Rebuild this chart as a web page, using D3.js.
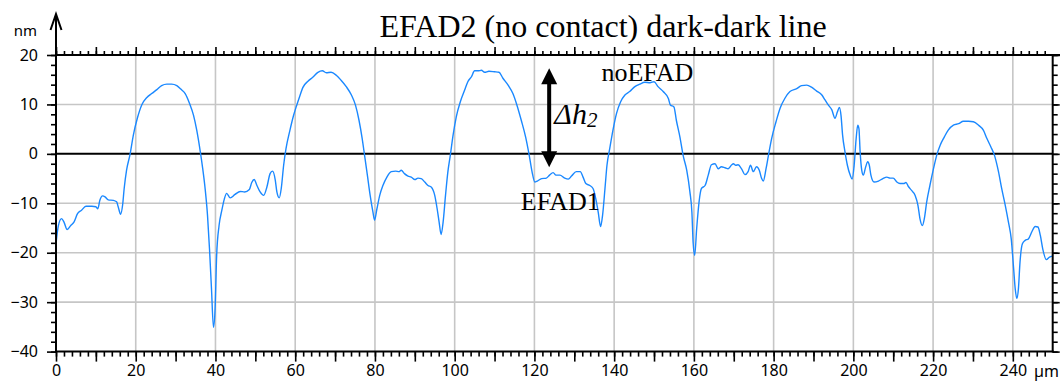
<!DOCTYPE html>
<html>
<head>
<meta charset="utf-8">
<script src="https://cdn.jsdelivr.net/npm/d3@7"></script>
<style>
  html, body { margin: 0; padding: 0; background: #fff; }
  svg { display: block; }
</style>
</head>
<body>
<svg id="chart" width="1062" height="382"></svg>
<script>
// ---- data ----
const titleText = "EFAD2 (no contact) dark-dark line";
const xUnit = "µm";
const yUnit = "nm";
const xDomain = [0, 250];
const yDomain = [-40, 20];
const xMajorTicks = [0, 20, 40, 60, 80, 100, 120, 140, 160, 180, 200, 220, 240];
const yMajorTicks = [20, 10, 0, -10, -20, -30, -40];

// profile position (µm)
const profileX = [
  0, 0.6, 1.4, 2.0, 2.8, 3.7, 4.5, 5.4, 6.4, 7.5, 9.0, 10.0, 10.5, 11.0, 11.7, 12.3, 13.1, 14.4, 15.2, 15.6,
  16.2, 16.7, 17.1, 17.7, 18.6, 19.4, 20.4, 21.5, 22.8, 24.0, 25.3, 26.5, 27.8, 29.0, 30.3, 31.3, 32.4, 33.5,
  34.5, 35.3, 36.2, 36.8, 37.4, 38.0, 38.5, 39.0, 39.5, 39.9, 40.3, 40.9, 41.6, 42.2, 42.8, 43.7, 44.9, 46.2,
  47.3, 48.5, 49.1, 49.7, 50.4, 51.2, 52.1, 52.9, 53.7, 54.3, 55.0, 55.4, 56.0, 56.5, 57.1, 57.7, 58.6, 59.6,
  60.4, 61.2, 61.9, 63.2, 64.4, 65.7, 66.8, 67.8, 69.0, 70.3, 71.5, 72.8, 74.1, 75.1, 76.0, 76.8, 77.4, 78.1,
  78.8, 79.5, 79.9, 80.5, 81.2, 82.0, 83.0, 84.1, 85.2, 86.0, 86.6, 87.4, 88.3, 89.1, 90.0, 90.8, 91.6, 92.5,
  93.3, 94.1, 95.0, 95.6, 96.1, 96.6, 97.1, 97.7, 98.3, 98.9, 99.6, 100.4, 101.4, 102.5, 103.3, 104.2, 105.0,
  105.9, 106.7, 107.5, 108.6, 110.0, 111.1, 112.1, 113.4, 114.6, 115.6, 116.7, 117.8, 118.7, 119.4, 120.1,
  120.7, 121.8, 123.0, 123.8, 124.7, 125.4, 126.4, 127.6, 128.5, 129.3, 130.5, 131.5, 132.2, 132.9, 133.9,
  134.7, 135.4, 136.0, 136.6, 137.1, 137.7, 138.2, 138.9, 139.7, 140.6, 141.6, 142.7, 143.9, 145.2, 146.4,
  147.7, 149.0, 150.0, 151.0, 152.3, 153.6, 154.1, 155.0, 155.6, 156.5, 157.3, 158.2, 159.0, 159.5, 159.8,
  160.2, 160.7, 161.3, 161.9, 162.8, 163.6, 164.4, 165.3, 166.1, 166.9, 167.8, 168.6, 169.5, 169.9, 170.5,
  171.1, 172.0, 172.8, 173.6, 174.2, 174.9, 175.7, 176.4, 177.0, 177.4, 178.1, 178.7, 179.5, 180.6, 181.6,
  182.8, 184.1, 185.8, 187.0, 188.3, 189.5, 190.8, 192.1, 192.9, 193.7, 194.6, 195.4, 196.0, 196.5, 196.9,
  197.3, 197.9, 198.5, 199.2, 199.7, 200.2, 200.7, 201.1, 201.4, 201.7, 202.1, 202.5, 203.1, 203.6, 204.0,
  204.4, 205.2, 206.3, 207.4, 208.4, 209.2, 210.0, 210.9, 211.7, 212.6, 213.2, 213.8, 214.6, 215.5, 216.2,
  216.7, 217.3, 217.8, 218.4, 219.2, 220.1, 220.9, 221.8, 222.8, 223.8, 225.1, 226.4, 227.6, 228.9, 230.1,
  231.4, 232.6, 233.5, 234.5, 235.4, 236.4, 237.2, 238.1, 238.9, 239.6, 240.2, 240.6, 241.0, 241.4, 241.8,
  242.4, 243.1, 243.9, 244.8, 245.6, 246.3, 246.9, 247.5, 248.4, 249.2, 249.9
];
// profile height (nm)
const profileNm = [
  -18.2, -14.5, -13.1, -13.8, -15.3, -14.5, -13.8, -12.1, -11.4, -10.6, -10.6, -10.7, -11.1, -9.4, -8.5, -8.7, -9.3, -9.4, -9.7, -10.7,
  -12.2, -10.4, -7.0, -3.3, 0, 3.8, 7.2, 9.9, 11.4, 12.2, 13.0, 13.8, 14.1, 14.1, 13.8, 13.1, 12.2, 10.2,
  7.8, 4.8, 0.4, -3.0, -7.0, -12.4, -19.2, -27.3, -35.1, -31.4, -20.5, -14.5, -11.4, -9.2, -8.0, -8.9, -8.2, -7.6,
  -7.7, -7.2, -5.8, -5.2, -6.4, -7.7, -8.4, -6.7, -4.0, -3.5, -5.3, -7.7, -8.9, -7.0, -2.3, 1.1, 4.5, 7.8,
  9.9, 11.8, 13.4, 14.7, 15.5, 16.5, 16.8, 16.4, 16.5, 15.9, 14.9, 13.6, 11.9, 9.9, 6.8, 3.1, -0.3, -4.3,
  -8.4, -11.8, -13.4, -11.1, -8.4, -6.4, -4.7, -3.6, -3.5, -3.6, -3.3, -4.0, -4.5, -4.7, -5.2, -4.9, -5.0, -5.7,
  -6.4, -6.7, -8.4, -11.1, -13.8, -16.3, -13.8, -8.4, -3.6, -0.3, 3.8, 7.5, 10.5, 12.9, 14.6, 15.6, 16.8,
  16.8, 16.9, 16.5, 16.7, 16.6, 16.5, 15.3, 13.9, 12.2, 9.9, 6.8, 3.4, -0.3, -3.6, -5.7,
  -5.5, -5.0, -4.9, -4.3, -3.8, -4.3, -4.3, -4.9, -5.1, -4.5, -3.6, -3.6, -4.7, -6.0, -6.4,
  -7.0, -9.1, -11.8, -14.7, -12.4, -7.0, -2.3, 1.1, 4.8, 8.2, 10.5, 11.9, 12.6, 13.6, 14.1,
  14.5, 14.4, 14.6, 13.6, 12.6, 11.2, 9.9, 9.5, 6.8, 3.4, -0.3, -3.3, -7.7, -11.8, -17.8,
  -20.5, -15.1, -9.7, -7.0, -6.4, -4.3, -2.2, -2.0, -3.0, -2.6, -2.8, -3.0, -2.2, -2.0, -2.3,
  -2.2, -3.1, -4.2, -3.6, -2.3, -3.6, -2.6, -3.3, -5.0, -5.5, -3.0, -0.3, 3.1, 6.5, 9.2,
  11.2, 12.6, 13.2, 13.8, 13.9, 13.5, 12.7, 11.9, 10.9, 9.9, 8.9, 7.2, 8.5, 9.4, 7.8,
  3.8, 0.4, -2.3, -4.3, -5.1, -2.3, 3.1, 5.8, 5.1, 0.4, -3.3, -4.3, -2.6, -1.6, -2.3,
  -4.3, -5.7, -5.5, -5.0, -4.7, -4.9, -4.9, -5.7, -6.0, -6.0, -5.8, -6.6, -7.4, -8.4, -10.4,
  -13.1, -14.5, -13.1, -9.7, -6.4, -3.0, -0.3, 1.8, 3.4, 4.8, 5.8, 6.1, 6.6, 6.6, 6.5,
  5.8, 4.8, 3.1, 1.4, -0.3, -3.6, -7.0, -10.4, -13.8, -17.2, -23.2, -27.3, -29.2, -27.3, -21.9,
  -18.2, -17.5, -17.2, -15.7, -14.7, -14.8, -16.5, -19.2, -21.4, -20.9, -20.7
];

// annotations
const labelTop = { text: "noEFAD", x: 136.8, y: 14.7 };
const labelBottom = { text: "EFAD1", x: 116.6, y: -11.4 };
const deltaLabel = { main: "Δh", sub: "2", x: 125.0, y: 6.0 };
const deltaArrow = { x: 123.7, y1: 17.3, y2: -2.7 };

// ---- layout ----
const svg = d3.select("#chart");
const pLeft = 56, pRight = 1052.7, pTop = 55, pBottom = 351.6;
const x = d3.scaleLinear().domain(xDomain).range([pLeft, pRight]);
const y = d3.scaleLinear().domain(yDomain).range([pBottom, pTop]);

const sans = "'Noto Sans', 'DejaVu Sans', sans-serif";
const serif = "'Liberation Serif', 'Times New Roman', serif";

// grid
const gridColor = "#c6c6c6";
svg.append("g").selectAll("line")
  .data(xMajorTicks.filter(d => d > 0))
  .join("line")
  .attr("x1", d => x(d)).attr("x2", d => x(d))
  .attr("y1", pTop).attr("y2", pBottom)
  .attr("stroke", gridColor).attr("stroke-width", 1.6);
svg.append("g").selectAll("line")
  .data(yMajorTicks.filter(d => d !== 0 && d !== 20 && d !== -40))
  .join("line")
  .attr("x1", pLeft).attr("x2", pRight)
  .attr("y1", d => y(d)).attr("y2", d => y(d))
  .attr("stroke", gridColor).attr("stroke-width", 1.6);

// zero line
svg.append("line")
  .attr("x1", pLeft).attr("x2", pRight)
  .attr("y1", y(0)).attr("y2", y(0))
  .attr("stroke", "#000").attr("stroke-width", 2);

// clip + profile line
svg.append("clipPath").attr("id", "clip")
  .append("rect").attr("x", pLeft).attr("y", pTop).attr("width", pRight - pLeft).attr("height", pBottom - pTop);

const pts = d3.zip(profileX, profileNm);
const line = d3.line().x(d => x(d[0])).y(d => y(d[1])).curve(d3.curveMonotoneX);
svg.append("path")
  .attr("clip-path", "url(#clip)")
  .attr("d", line(pts))
  .attr("fill", "none")
  .attr("stroke", "#1a88ff")
  .attr("stroke-width", 1.4)
  .attr("stroke-linejoin", "round");

// ---- axes ----
const minorX = d3.range(0, 250, 2);
const midX = d3.range(0, 250, 10);
const minorY = d3.range(-40, 21, 2);
const midY = d3.range(-40, 21, 10);

function styleAxis(g) {
  g.selectAll(".domain").remove();
  g.selectAll(".tick line").attr("stroke", "#000").attr("stroke-width", 1.6);
}

// bottom
svg.append("g").attr("transform", `translate(0,${pBottom})`)
  .call(d3.axisBottom(x).tickValues(minorX).tickSize(5).tickFormat(""))
  .call(styleAxis);
svg.append("g").attr("transform", `translate(0,${pBottom})`)
  .call(d3.axisBottom(x).tickValues(midX).tickSize(10).tickFormat(""))
  .call(styleAxis);
const bx = svg.append("g").attr("transform", `translate(0,${pBottom})`)
  .call(d3.axisBottom(x).tickValues(xMajorTicks).tickSize(0).tickPadding(13).tickFormat(d3.format("d")))
  .call(styleAxis);
bx.selectAll("text").attr("font-family", sans).attr("font-size", 16).attr("fill", "#000");

// top
svg.append("g").attr("transform", `translate(0,${pTop})`)
  .call(d3.axisTop(x).tickValues(minorX).tickSize(4).tickFormat(""))
  .call(styleAxis);
svg.append("g").attr("transform", `translate(0,${pTop})`)
  .call(d3.axisTop(x).tickValues(midX).tickSize(8).tickFormat(""))
  .call(styleAxis);

// left
svg.append("g").attr("transform", `translate(${pLeft},0)`)
  .call(d3.axisLeft(y).tickValues(minorY).tickSize(5).tickFormat(""))
  .call(styleAxis);
const ly = svg.append("g").attr("transform", `translate(${pLeft},0)`)
  .call(d3.axisLeft(y).tickValues(midY).tickSize(9).tickPadding(9).tickFormat(d3.format("d")))
  .call(styleAxis);
ly.selectAll("text").attr("font-family", sans).attr("font-size", 16).attr("fill", "#000");

// right
svg.append("g").attr("transform", `translate(${pRight},0)`)
  .call(d3.axisRight(y).tickValues(minorY).tickSize(5).tickFormat(""))
  .call(styleAxis);
svg.append("g").attr("transform", `translate(${pRight},0)`)
  .call(d3.axisRight(y).tickValues(midY).tickSize(7).tickFormat(""))
  .call(styleAxis);

// frame lines
svg.append("line").attr("x1", pLeft).attr("x2", pRight + 1).attr("y1", pBottom).attr("y2", pBottom)
  .attr("stroke", "#000").attr("stroke-width", 2);
svg.append("line").attr("x1", pLeft).attr("x2", 1060).attr("y1", pTop).attr("y2", pTop)
  .attr("stroke", "#000").attr("stroke-width", 2);
svg.append("line").attr("x1", pRight).attr("x2", pRight).attr("y1", pTop).attr("y2", pBottom + 1)
  .attr("stroke", "#000").attr("stroke-width", 2);
svg.append("line").attr("x1", pLeft).attr("x2", pLeft).attr("y1", 14).attr("y2", pBottom + 1)
  .attr("stroke", "#000").attr("stroke-width", 2);
// y axis arrow head
svg.append("path")
  .attr("d", `M${pLeft - 5.5},30 L${pLeft},14 L${pLeft + 5.5},30`)
  .attr("fill", "none").attr("stroke", "#000").attr("stroke-width", 2);

// units
svg.append("text").attr("x", 37).attr("y", 36).attr("text-anchor", "end")
  .attr("font-family", sans).attr("font-size", 15).text(yUnit);
svg.append("text").attr("x", 1034).attr("y", 376.5)
  .attr("font-family", sans).attr("font-size", 16).text(xUnit);

// title
svg.append("text").attr("x", 603).attr("y", 37).attr("text-anchor", "middle")
  .attr("font-family", serif).attr("font-size", 32).text(titleText);

// annotations
svg.append("text").attr("x", x(labelTop.x)).attr("y", y(labelTop.y))
  .attr("font-family", serif).attr("font-size", 26).text(labelTop.text);
svg.append("text").attr("x", x(labelBottom.x)).attr("y", y(labelBottom.y))
  .attr("font-family", serif).attr("font-size", 26).text(labelBottom.text);
const dl = svg.append("text").attr("x", x(deltaLabel.x)).attr("y", y(deltaLabel.y))
  .attr("font-family", serif).attr("font-style", "italic").attr("font-size", 30);
dl.append("tspan").text(deltaLabel.main);
dl.append("tspan").attr("font-size", 21).attr("dy", 3).text(deltaLabel.sub);

// double-headed arrow
const ax = x(deltaArrow.x), ay1 = y(deltaArrow.y1), ay2 = y(deltaArrow.y2);
svg.append("line").attr("x1", ax).attr("x2", ax).attr("y1", ay1 + 12).attr("y2", ay2 - 12)
  .attr("stroke", "#000").attr("stroke-width", 4);
svg.append("path")
  .attr("d", `M${ax},${ay1} L${ax - 8},${ay1 + 16} L${ax + 8},${ay1 + 16} Z`).attr("fill", "#000");
svg.append("path")
  .attr("d", `M${ax},${ay2} L${ax - 8},${ay2 - 16} L${ax + 8},${ay2 - 16} Z`).attr("fill", "#000");
</script>
</body>
</html>
